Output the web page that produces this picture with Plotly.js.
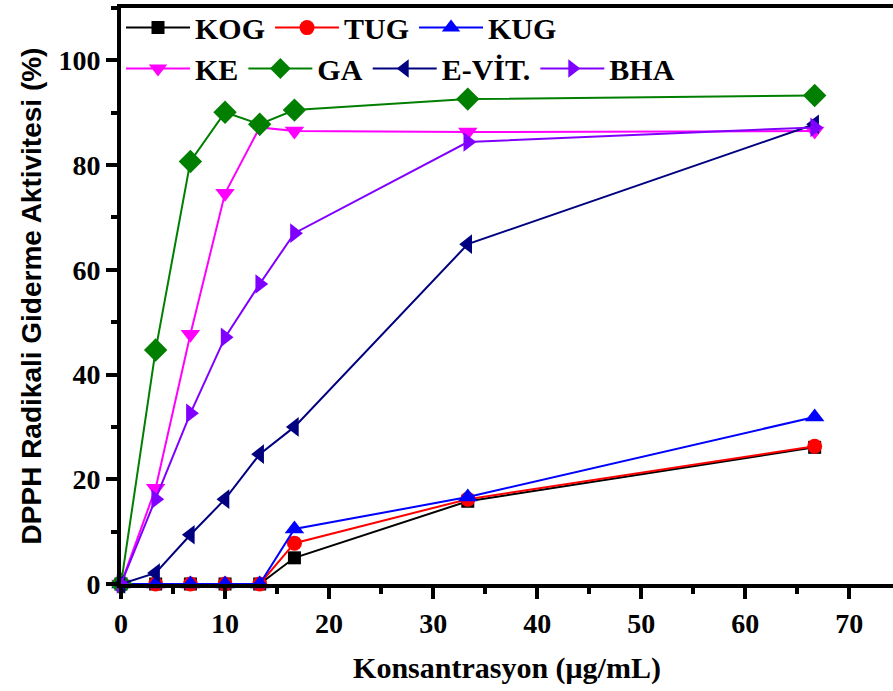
<!DOCTYPE html>
<html>
<head>
<meta charset="utf-8">
<script src="https://cdn.plot.ly/plotly-3.0.1.min.js"></script>
<style>
  html, body { margin: 0; padding: 0; background: #fff; }
  #chart { width: 893px; height: 691px; }
</style>
</head>
<body>
<div id="chart"></div>
<script>
// Concentrations (µg/mL)
const concentration = [0, 3.33, 6.67, 10, 13.33, 16.67, 33.33, 66.67];

// DPPH radical scavenging activity (%) per sample
const KOG   = [0, 0, 0, 0, 0, 5.0, 15.8, 26.1];
const TUG   = [0, 0, 0, 0, 0, 7.8, 16.2, 26.3];
const KUG   = [0, 0, 0, 0, 0, 10.5, 16.6, 31.9];
const KE    = [0, 18.3, 47.7, 74.6, 87.2, 86.5, 86.3, 86.5];
const GA    = [0, 44.7, 80.7, 90.1, 87.8, 90.5, 92.6, 93.3];
const EVIT  = [0, 2.1, 9.4, 16.2, 24.8, 30.0, 64.9, 87.8];
const BHA   = [0, 16.2, 32.6, 47.1, 57.3, 67.0, 84.4, 87.2];

const seriesNames = ['KOG', 'TUG', 'KUG', 'KE', 'GA', 'E-VİT.', 'BHA'];
const xTicks = [0, 10, 20, 30, 40, 50, 60, 70];
const yTicks = [0, 20, 40, 60, 80, 100];

const serif = 'Liberation Serif, Times New Roman, serif';

function series(name, y, color, symbol, size, legend) {
  return {
    x: concentration, y: y, name: name, type: 'scatter', mode: 'lines+markers',
    line: { color: color, width: 2 },
    marker: { color: color, symbol: symbol, size: size, line: { width: 0 } },
    legend: legend, cliponaxis: false
  };
}

const data = [
  series(seriesNames[0], KOG,  '#000000', 'square',        13, 'legend'),
  series(seriesNames[1], TUG,  '#ff0000', 'circle',        15, 'legend'),
  series(seriesNames[2], KUG,  '#0000ff', 'triangle-up',   17, 'legend'),
  series(seriesNames[3], KE,   '#ff00ff', 'triangle-down', 17, 'legend2'),
  series(seriesNames[4], GA,   '#007f00', 'diamond',       18, 'legend2'),
  series(seriesNames[5], EVIT, '#000080', 'triangle-left', 17, 'legend2'),
  series(seriesNames[6], BHA,  '#8000ff', 'triangle-right',17, 'legend2')
];

// two legend rows: the first three samples, then the extract and the standards
const legendBase = {
  orientation: 'h', xref: 'paper', yref: 'paper', xanchor: 'left', yanchor: 'middle',
  font: { family: serif, size: 30, color: '#000', weight: 'bold' },
  bgcolor: 'rgba(0,0,0,0)', itemwidth: 64, tracegroupgap: 0
};

const layout = {
  width: 893, height: 691,
  margin: { l: 121, r: 0, t: 8, b: 107 },
  paper_bgcolor: '#fff', plot_bgcolor: '#fff',
  showlegend: true,
  legend:  Object.assign({}, legendBase, { x: 0, y: 0.966 }),
  legend2: Object.assign({}, legendBase, { x: 0, y: 0.895 }),
  xaxis: {
    range: [0, 74.2], tickvals: xTicks, ticktext: xTicks.map(String),
    showgrid: false, zeroline: false,
    showline: true, linewidth: 4, linecolor: '#000', mirror: true,
    ticks: 'outside', ticklen: 11, tickwidth: 4, tickcolor: '#000',
    minor: { dtick: 5, tick0: 5, ticks: 'outside', ticklen: 6, tickwidth: 4, tickcolor: '#000' },
    tickfont: { family: serif, size: 28, color: '#000', weight: 'bold' },
    title: { text: 'Konsantrasyon (μg/mL)', standoff: 20,
             font: { family: serif, size: 30, color: '#000', weight: 'bold' } }
  },
  yaxis: {
    range: [0, 110], tickvals: yTicks, ticktext: yTicks.map(String),
    showgrid: false, zeroline: false,
    showline: true, linewidth: 4, linecolor: '#000',
    ticks: 'outside', ticklen: 11, tickwidth: 4, tickcolor: '#000',
    minor: { dtick: 10, tick0: 10, ticks: 'outside', ticklen: 6, tickwidth: 4, tickcolor: '#000' },
    tickfont: { family: serif, size: 28, color: '#000', weight: 'bold' },
    title: { text: 'DPPH Radikali Giderme Aktivitesi (%)', standoff: 10,
             font: { family: 'Liberation Sans, Arial, sans-serif', size: 28, color: '#000', weight: 'bold' } }
  }
};

Plotly.newPlot('chart', data, layout, { displayModeBar: false, staticPlot: true });
</script>
</body>
</html>
